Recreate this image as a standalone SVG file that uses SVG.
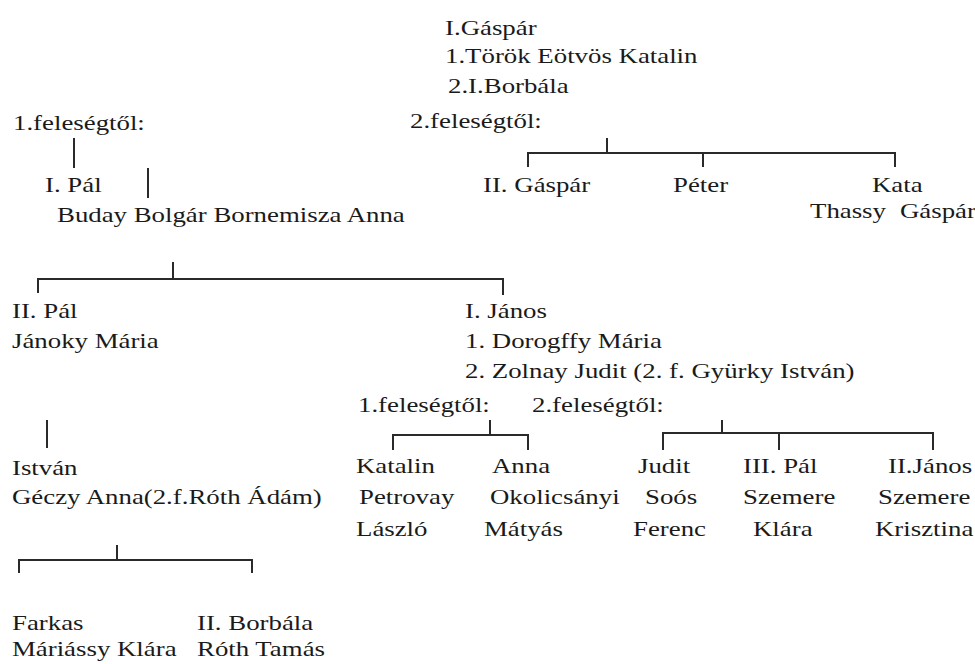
<svg xmlns="http://www.w3.org/2000/svg" width="975" height="664" viewBox="0 0 975 664" font-family="'Liberation Serif', 'Times New Roman', serif">
<style>
.t{font-family:'Liberation Serif','Times New Roman',serif;font-size:22px;fill:#1a1a1a}
.c{stroke:#2a2a2a;stroke-width:2;fill:none}
</style>
<rect width="975" height="664" fill="#ffffff"/>
<g id="connectors" class="c">
<path d="M74 138V168"/>
<path d="M148 168V198"/>
<path d="M607 138V153M528 167V153H895V167M703 153V167"/>
<path d="M173 262V279M38 293V279H503V295"/>
<path d="M47 420V448"/>
<path d="M490 420V435M393 450V435H528V450"/>
<path d="M722 420V433M663 450V433H933V450M779 433V450"/>
<path d="M117 545V560M19 573V560H252V573"/>
</g>
<g id="gaspar1">
<text class="t" transform="translate(445 35) scale(1.22 1)">I.Gáspár</text>
<text class="t" transform="translate(445 63) scale(1.22 1)">1.Török Eötvös Katalin</text>
<text class="t" transform="translate(448 93) scale(1.22 1)">2.I.Borbála</text>
</g>
<g id="label_feleseg2_top"><text class="t" transform="translate(410 128) scale(1.22 1)">2.feleségtől:</text></g>
<g id="label_feleseg1_top"><text class="t" transform="translate(13 130) scale(1.22 1)">1.feleségtől:</text></g>
<g id="pal1"><text class="t" transform="translate(45 192) scale(1.22 1)">I. Pál</text></g>
<g id="buday"><text class="t" transform="translate(57 222) scale(1.22 1)">Buday Bolgár Bornemisza Anna</text></g>
<g id="gaspar2"><text class="t" transform="translate(483 192) scale(1.22 1)">II. Gáspár</text></g>
<g id="peter"><text class="t" transform="translate(673 192) scale(1.22 1)">Péter</text></g>
<g id="kata">
<text class="t" transform="translate(872 192) scale(1.22 1)">Kata</text>
<text class="t" transform="translate(810 218) scale(1.22 1)">Thassy</text>
<text class="t" transform="translate(900 218) scale(1.22 1)">Gáspár</text>
</g>
<g id="pal2">
<text class="t" transform="translate(12 318) scale(1.22 1)">II. Pál</text>
<text class="t" transform="translate(12 348) scale(1.22 1)">Jánoky Mária</text>
</g>
<g id="janos1">
<text class="t" transform="translate(465 318) scale(1.22 1)">I. János</text>
<text class="t" transform="translate(465 348) scale(1.22 1)">1. Dorogffy Mária</text>
<text class="t" transform="translate(465 378) scale(1.22 1)">2. Zolnay Judit (2. f. Gyürky István)</text>
</g>
<g id="label_feleseg1_janos"><text class="t" transform="translate(358 412) scale(1.22 1)">1.feleségtől:</text></g>
<g id="label_feleseg2_janos"><text class="t" transform="translate(532 412) scale(1.22 1)">2.feleségtől:</text></g>
<g id="istvan">
<text class="t" transform="translate(12 475) scale(1.22 1)">István</text>
<text class="t" transform="translate(12 504) scale(1.22 1)">Géczy Anna(2.f.Róth Ádám)</text>
</g>
<g id="katalin">
<text class="t" transform="translate(356 473) scale(1.22 1)">Katalin</text>
<text class="t" transform="translate(359 504) scale(1.22 1)">Petrovay</text>
<text class="t" transform="translate(356 536) scale(1.22 1)">László</text>
</g>
<g id="anna">
<text class="t" transform="translate(492 473) scale(1.22 1)">Anna</text>
<text class="t" transform="translate(490 504) scale(1.22 1)">Okolicsányi</text>
<text class="t" transform="translate(484 536) scale(1.22 1)">Mátyás</text>
</g>
<g id="judit">
<text class="t" transform="translate(638 473) scale(1.22 1)">Judit</text>
<text class="t" transform="translate(645 504) scale(1.22 1)">Soós</text>
<text class="t" transform="translate(633 536) scale(1.22 1)">Ferenc</text>
</g>
<g id="pal3">
<text class="t" transform="translate(743 473) scale(1.22 1)">III. Pál</text>
<text class="t" transform="translate(743 504) scale(1.22 1)">Szemere</text>
<text class="t" transform="translate(753 536) scale(1.22 1)">Klára</text>
</g>
<g id="janos2">
<text class="t" transform="translate(888 473) scale(1.22 1)">II.János</text>
<text class="t" transform="translate(878 504) scale(1.22 1)">Szemere</text>
<text class="t" transform="translate(875 536) scale(1.22 1)">Krisztina</text>
</g>
<g id="farkas">
<text class="t" transform="translate(12 630) scale(1.22 1)">Farkas</text>
<text class="t" transform="translate(12 656) scale(1.22 1)">Máriássy Klára</text>
</g>
<g id="borbala2">
<text class="t" transform="translate(197 630) scale(1.22 1)">II. Borbála</text>
<text class="t" transform="translate(197 656) scale(1.22 1)">Róth Tamás</text>
</g>
</svg>
